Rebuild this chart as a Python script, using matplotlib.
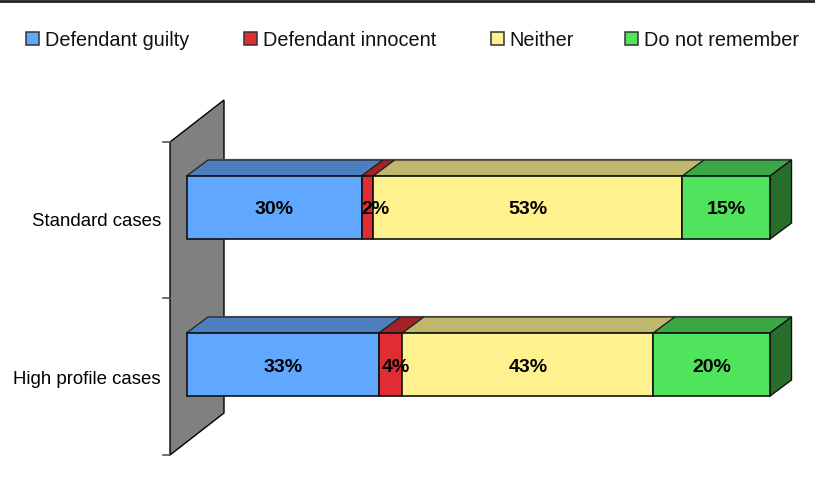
import matplotlib
matplotlib.use("Agg")
import matplotlib.pyplot as plt
from matplotlib.patches import Polygon, Rectangle
from matplotlib.transforms import Affine2D

categories = ["High profile cases", "Standard cases"]
series_names = ["Defendant guilty", "Defendant innocent", "Neither", "Do not remember"]
guilty = [33, 30]
innocent = [4, 2]
neither = [43, 53]
not_remember = [20, 15]
series_values = [guilty, innocent, neither, not_remember]
front_colors = ["#60a8ff", "#e02d33", "#fff28e", "#4fe45c"]
top_colors = ["#4d7fbf", "#a52226", "#bfb86c", "#39a845"]
side_color = "#276e2d"
wall_color = "#808080"

W, H = 815, 502
plt.rcParams["font.family"] = ["Liberation Sans", "DejaVu Sans"]
fig = plt.figure(figsize=(W / 100, H / 100), dpi=100)

# axis placement in pixels
x0, x100 = 186.5, 770.0
y_cat0, y_cat1 = 365.5, 208.5
px_unit = y_cat0 - y_cat1
bottom = (H - y_cat0 - 0.5 * px_unit) / H
ax = fig.add_axes([x0 / W, bottom, (x100 - x0) / W, px_unit / H])
ax.set_xlim(0, 100)
ax.set_ylim(-0.5, 0.5)
ax.axis("off")

sx = 100 / (x100 - x0)   # data per pixel
sy = 1 / px_unit
depth_x, depth_y = 21.5 * sx, 16.0 * sy
bar_h = 63 / px_unit

# back wall
wl = -16.5 * sx
wr = wl + 54 * sx
wtop = (y_cat0 - 143) / px_unit
wbot = (y_cat0 - 456) / px_unit
rise = 42 * sy
ax.add_patch(Polygon([(wl, wbot), (wl, wtop), (wr, wtop + rise), (wr, wbot + rise)],
                     closed=True, fc=wall_color, ec="black", lw=1.0, clip_on=False, zorder=1))
for t in [wbot, wbot + 1, wtop]:
    ax.plot([wl - 7 * sx, wl], [t, t], color="#555555", lw=1.2, clip_on=False, zorder=1)

for i, cat in enumerate(categories):
    left = 0
    top = i + bar_h / 2
    low = i - bar_h / 2
    ax.plot([depth_x, 100 + depth_x], [top + depth_y] * 2, color="#808080", lw=1.6,
            clip_on=False, zorder=2, solid_capstyle="butt")
    for j, vals in enumerate(series_values):
        v = vals[i]
        ax.add_patch(Polygon([(left, top), (left + v, top), (left + v + depth_x, top + depth_y),
                              (left + depth_x, top + depth_y)], closed=True, fc=top_colors[j],
                             ec="#222222", lw=0.9, clip_on=False, zorder=3))
        ax.add_patch(Rectangle((left, low), v, bar_h, fc=front_colors[j], ec="#111111",
                               lw=1.2, clip_on=False, zorder=4))
        # narrow segments: the label sits off-centre, spilling right
        nudge = 8 * sx if v <= 2 else (5.5 * sx if v <= 4 else 0)
        ax.text(left + v / 2 + nudge, i - 1.5 * sy, f"{v}%", ha="center", va="center",
                fontsize=14, fontweight="bold", color="black", zorder=6, clip_on=False)
        left += v
    ax.add_patch(Polygon([(left, low), (left, top), (left + depth_x, top + depth_y),
                          (left + depth_x, low + depth_y)], closed=True, fc=side_color,
                         ec="#111111", lw=1.0, clip_on=False, zorder=3))
    ax.text(-25.5 * sx, i - 13.5 * sy, cat, ha="right", va="center", fontsize=13.4,
            color="black", clip_on=False)

# pixel-space overlays: legend and top rule
px = Affine2D().scale(1 / W, -1 / H).translate(0, 1) + fig.transFigure
legend_swatch_x = [26, 244, 491, 625]
legend_text_x = [45, 263, 509, 644]
for name, c, sw, tx in zip(series_names, front_colors, legend_swatch_x, legend_text_x):
    fig.add_artist(Rectangle((sw, 33), 12.5, 13, transform=px, fc=c, ec="#333333", lw=1.1))
    fig.text(tx, 41, name, transform=px, ha="left", va="center", fontsize=14.3, color="#111111")
fig.add_artist(plt.Line2D([0, W], [2, 2], transform=px, color="#222222", lw=2.0))

fig.savefig("out.png", dpi=100, facecolor="white")
